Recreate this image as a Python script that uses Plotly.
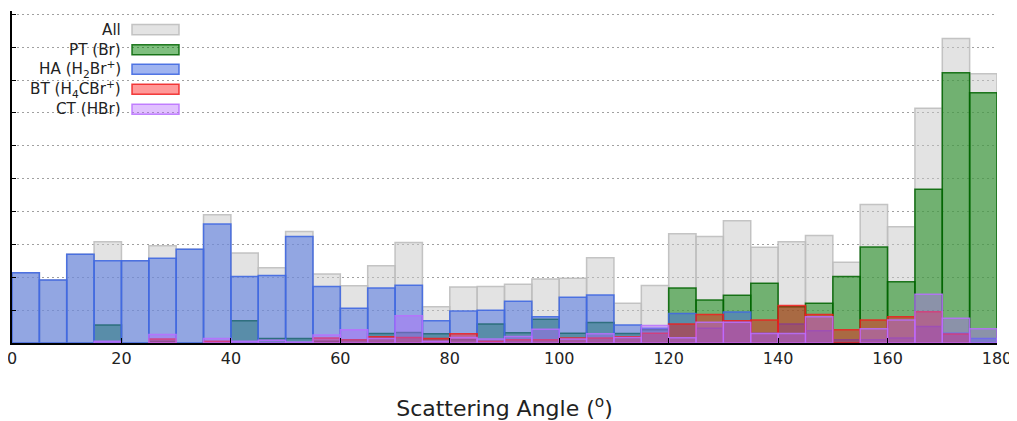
import plotly.graph_objects as go

# bin left edges (degrees), bin width 5
bin_left = list(range(0, 180, 5))

all_counts = [2.14, 1.92, 2.70, 3.08, 2.50, 2.96, 2.85, 3.90, 2.74, 2.29, 3.39, 2.10,
              1.74, 2.35, 3.06, 1.10, 1.70, 1.72, 1.79, 1.95, 1.97, 2.59, 1.21, 1.75,
              3.32, 3.24, 3.72, 2.91, 3.08, 3.27, 2.46, 4.21, 3.54, 7.14, 9.26, 8.19]
pt_counts = [0, 0, 0, 0.55, 0, 0.05, 0, 0, 0.68, 0.14, 0.14, 0.05,
             0.10, 0.29, 0.32, 0.28, 0.10, 0.58, 0.31, 0.72, 0.30, 0.62, 0.29, 0.40,
             1.67, 1.31, 1.45, 1.82, 1.10, 1.21, 2.02, 2.92, 1.86, 4.68, 8.22, 7.61]
ha_counts = [2.14, 1.92, 2.70, 2.50, 2.50, 2.58, 2.85, 3.62, 2.02, 2.05, 3.24, 1.72,
             1.06, 1.67, 1.76, 0.68, 0.97, 1.00, 1.27, 0.80, 1.39, 1.46, 0.55, 0.45,
             0.90, 0.45, 0.94, 0.30, 0.58, 0.37, 0.10, 0.10, 0.15, 0.50, 0.30, 0.14]
bt_counts = [0, 0, 0, 0, 0, 0.12, 0, 0.05, 0, 0, 0, 0.15,
             0.10, 0.19, 0.17, 0.14, 0.28, 0.05, 0.10, 0.10, 0.15, 0.15, 0.19, 0.30,
             0.58, 0.87, 0.68, 0.70, 1.14, 0.87, 0.40, 0.70, 0.80, 0.95, 0.27, 0]
ct_counts = [0, 0, 0, 0.05, 0, 0.26, 0, 0.14, 0.05, 0.08, 0.03, 0.24,
             0.40, 0.14, 0.83, 0.05, 0.17, 0.12, 0.20, 0.42, 0.12, 0.28, 0.17, 0.53,
             0.16, 0.63, 0.63, 0.29, 0.29, 0.80, 0, 0.43, 0.70, 1.48, 0.75, 0.43]

labels = ["All", "PT (Br)", "HA (H<sub>2</sub>Br<sup>+</sup>)",
          "BT (H<sub>4</sub>CBr<sup>+</sup>)", "CT (HBr)"]
x_ticks = [0, 20, 40, 60, 80, 100, 120, 140, 160, 180]

series = [all_counts, pt_counts, ha_counts, bt_counts, ct_counts]
fills = ["rgba(200,200,200,0.5)", "rgba(0,128,0,0.5)", "rgba(65,105,225,0.5)",
         "rgba(255,0,0,0.4)", "rgba(180,100,255,0.4)"]
edges = ["rgba(190,190,190,0.9)", "rgba(0,100,0,0.85)", "rgba(65,105,225,0.9)",
         "rgba(240,30,30,0.85)", "rgba(185,110,255,0.85)"]

centers = [b + 2.5 for b in bin_left]

fig = go.Figure()
for vals, fc, ec, name in zip(series, fills, edges, labels):
    fig.add_trace(go.Bar(
        x=centers, y=[v if v > 0 else None for v in vals], width=5,
        marker=dict(color=fc, line=dict(color=ec, width=1.5)),
        name=name, showlegend=False))

# page body has an 8px margin, so the figure is shifted by 8px
OFF = 8
W, H = 1017 - OFF, 421 - OFF
plot_l, plot_r, plot_t, plot_b = 12 - OFF, 20, 11.4 - OFF, 78
pw = W - plot_l - plot_r
ph = H - plot_t - plot_b

# custom legend: text to the left of swatch (page pixel rows)
row_y = [30, 50, 69.5, 89.5, 109.5]
shapes = []
annotations = []
for i, (name, fc, ec) in enumerate(zip(labels, fills, edges)):
    yc = 1 - (row_y[i] - OFF - plot_t) / ph
    x0 = (132 - OFF - plot_l) / pw
    x1 = (179 - OFF - plot_l) / pw
    hh = 5 / ph
    shapes.append(dict(type="rect", xref="paper", yref="paper",
                       x0=x0, x1=x1, y0=yc - hh, y1=yc + hh,
                       fillcolor=fc, line=dict(color=ec, width=1.5)))
    annotations.append(dict(xref="paper", yref="paper", x=(123 - OFF - plot_l) / pw, y=yc,
                            text=name, showarrow=False, xanchor="right", yanchor="middle",
                            font=dict(family="DejaVu Sans", size=15.2, color="#222")))

fig.update_layout(
    width=W, height=H,
    margin=dict(l=plot_l, r=plot_r, t=plot_t, b=plot_b, pad=0, autoexpand=False),
    barmode="overlay",
    plot_bgcolor="white", paper_bgcolor="white",
    font=dict(family="DejaVu Sans", size=16, color="#222"),
    shapes=shapes, annotations=annotations,
    xaxis=dict(range=[0, 180], tickvals=x_ticks, ticks="inside", ticklen=5,
               tickcolor="black", showline=True, linecolor="black", linewidth=1.5,
               showgrid=False, zeroline=False, ticklabeloverflow="allow",
               title=dict(text="Scattering Angle (<sup>o</sup>)",
                          font=dict(size=22, family="DejaVu Sans", color="#222"),
                          standoff=35)),
    yaxis=dict(range=[0, 10.1], dtick=1, ticks="inside", ticklen=4,
               tickcolor="black", showticklabels=False, showline=True,
               linecolor="black", linewidth=1.5, showgrid=True,
               gridcolor="#a0a0a0", griddash="1.5px,3.5px", gridwidth=1, zeroline=False),
)

fig.write_html("out.html")
